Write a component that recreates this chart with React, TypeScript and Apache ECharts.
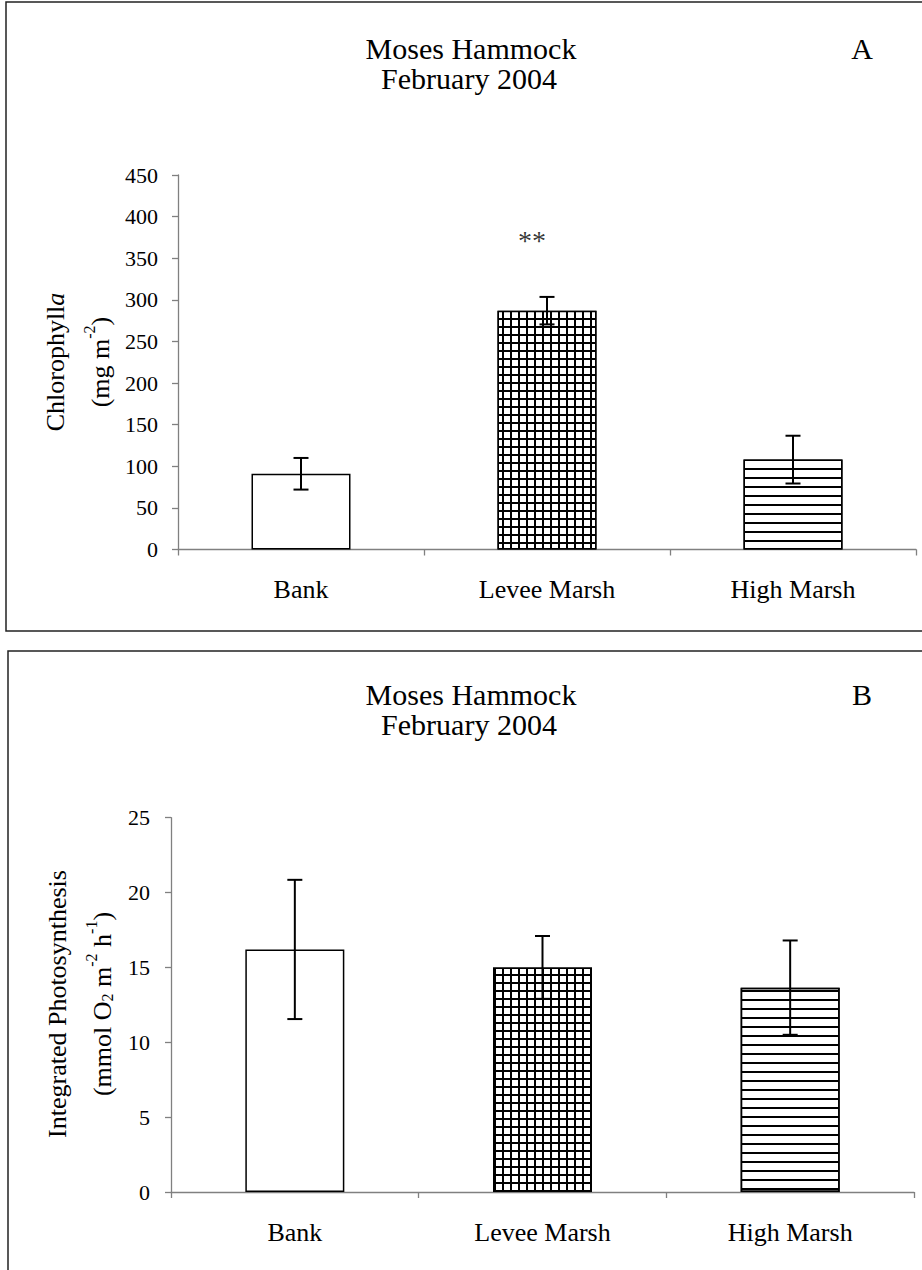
import React, { useEffect, useRef } from "react";
import * as echarts from "echarts";

// ---- data ----
const categories = ["Bank", "Levee Marsh", "High Marsh"];
const chlValues = [91, 287, 108];
const chlErrors = [19, 16.5, 28.7];
const chlSignificance = ["", "**", ""];
const chlSignificanceLevel = 371;
const chlAxis = { min: 0, max: 450, interval: 50 };

const photoValues = [16.2, 15.0, 13.65];
const photoErrors = [4.65, 2.1, 3.15];
const photoAxis = { min: 0, max: 25, interval: 5 };

const panelTitleLine1 = "Moses Hammock";
const panelTitleLine2 = "February 2004";

const FONT = '"Liberation Serif", "Times New Roman", serif';

const gridDecal = {
  symbol: "rect",
  symbolSize: 1,
  symbolKeepAspect: false,
  color: "#ffffff",
  dashArrayX: [6, 1.6],
  dashArrayY: [6, 1.6],
  rotation: 0,
};
const stripeDecal = {
  symbol: "rect",
  symbolSize: 1,
  color: "#000000",
  dashArrayX: [1, 0],
  dashArrayY: [1.6, 6.1],
  rotation: 0,
};
const barStyles = [
  { color: "#ffffff", borderColor: "#000", borderWidth: 1.5 },
  { color: "#000000", borderColor: "#000", borderWidth: 1.5, decal: gridDecal },
  { color: "#ffffff", borderColor: "#000", borderWidth: 1.5, decal: stripeDecal },
];

function barSeries(values: number[], idx: number) {
  return {
    type: "bar",
    xAxisIndex: idx,
    yAxisIndex: idx,
    barWidth: 99,
    data: values.map((v, i) => ({ value: v, itemStyle: barStyles[i] })),
    z: 2,
  };
}

function errorSeries(values: number[], errors: number[], idx: number) {
  return {
    type: "custom",
    xAxisIndex: idx,
    yAxisIndex: idx,
    data: values.map((v, i) => [i, v - errors[i], v + errors[i]]),
    renderItem: (_p: any, api: any) => {
      const x = api.value(0);
      const lo = api.coord([x, api.value(1)]);
      const hi = api.coord([x, api.value(2)]);
      const hw = 7.5;
      const style = { stroke: "#000", lineWidth: 2 };
      return {
        type: "group",
        children: [
          { type: "line", shape: { x1: lo[0], y1: lo[1], x2: hi[0], y2: hi[1] }, style },
          { type: "line", shape: { x1: lo[0] - hw, y1: lo[1], x2: lo[0] + hw, y2: lo[1] }, style },
          { type: "line", shape: { x1: hi[0] - hw, y1: hi[1], x2: hi[0] + hw, y2: hi[1] }, style },
        ],
      };
    },
    z: 10,
  };
}

function xAxis(idx: number) {
  return {
    type: "category",
    gridIndex: idx,
    data: categories,
    axisLine: { lineStyle: { color: "#808080", width: 1.3 } },
    axisTick: { show: true, inside: false, length: 6, lineStyle: { color: "#808080", width: 1.3 } },
    axisLabel: { color: "#000", fontFamily: FONT, fontSize: 26, margin: 27 },
    splitLine: { show: false },
  };
}

function yAxis(idx: number, ax: { min: number; max: number; interval: number }, margin: number) {
  return {
    type: "value",
    gridIndex: idx,
    min: ax.min,
    max: ax.max,
    interval: ax.interval,
    axisLine: { show: true, lineStyle: { color: "#808080", width: 1.3 } },
    axisTick: { show: true, inside: false, length: 6, lineStyle: { color: "#808080", width: 1.3 } },
    axisLabel: { color: "#000", fontFamily: FONT, fontSize: 22, margin },
    splitLine: { show: false },
  };
}

const textBase = { fontFamily: FONT, fill: "#000" };

function titleGraphics(offsetY: number, letter: string) {
  return [
    {
      type: "text",
      x: 471,
      y: 48 + offsetY,
      style: { ...textBase, text: panelTitleLine1, fontSize: 30, align: "center", verticalAlign: "middle" },
    },
    {
      type: "text",
      x: 469,
      y: 78 + offsetY,
      style: { ...textBase, text: panelTitleLine2, fontSize: 30, align: "center", verticalAlign: "middle" },
    },
    {
      type: "text",
      x: 862,
      y: 48 + offsetY,
      style: { ...textBase, text: letter, fontSize: 30, align: "center", verticalAlign: "middle" },
    },
  ];
}

function rotText(x: number, y: number, text: string, rich?: any) {
  return {
    type: "text",
    x,
    y,
    rotation: Math.PI / 2,
    style: {
      ...textBase,
      text,
      fontSize: 26,
      align: "center",
      verticalAlign: "middle",
      rich,
    },
  };
}

const richDefs = {
  n: { fontFamily: FONT, fontSize: 26, lineHeight: 32, verticalAlign: "bottom", color: "#000" },
  i: { fontFamily: FONT, fontSize: 26, fontStyle: "italic", lineHeight: 32, verticalAlign: "bottom", color: "#000" },
  sup: { fontFamily: FONT, fontSize: 16, lineHeight: 16, verticalAlign: "top", color: "#000" },
  sub: { fontFamily: FONT, fontSize: 16, lineHeight: 16, verticalAlign: "bottom", color: "#000" },
};

export default function App() {
  const ref = useRef<HTMLDivElement>(null);
  useEffect(() => {
    if (!ref.current) return;
    const chart = echarts.init(ref.current, null, { renderer: "svg" });
    const option: any = {
      animation: false,
      backgroundColor: "#ffffff",
      grid: [
        { left: 178, right: 6, top: 175, height: 374.5 },
        { left: 171, right: 8, top: 817.7, height: 374.3 },
      ],
      xAxis: [xAxis(0), xAxis(1)],
      yAxis: [yAxis(0, chlAxis, 20), yAxis(1, photoAxis, 21)],
      series: [
        barSeries(chlValues, 0),
        errorSeries(chlValues, chlErrors, 0),
        {
          type: "scatter",
          xAxisIndex: 0,
          yAxisIndex: 0,
          symbolSize: 0,
          data: chlSignificance
            .map((s, i) => (s ? { value: [i, chlSignificanceLevel], name: s } : null))
            .filter((d) => d),
          label: {
            show: true,
            position: "inside",
            offset: [-15, 0],
            formatter: (p: any) => p.name,
            fontFamily: FONT,
            fontSize: 28,
            color: "#000",
          },
          z: 12,
        },
        barSeries(photoValues, 1),
        errorSeries(photoValues, photoErrors, 1),
      ],
      graphic: [
        {
          type: "rect",
          shape: { x: 6, y: 2, width: 940, height: 629 },
          style: { fill: "none", stroke: "#222", lineWidth: 1.5 },
          z: 0,
        },
        {
          type: "rect",
          shape: { x: 8, y: 651, width: 940, height: 700 },
          style: { fill: "none", stroke: "#222", lineWidth: 1.5 },
          z: 0,
        },
        ...titleGraphics(0, "A"),
        ...titleGraphics(646, "B"),
        rotText(52, 362, "{n|Chlorophyll}{i|a}", richDefs),
        rotText(97, 362, "{n|(mg m}{sup|-2}{n|)}", richDefs),
        rotText(54, 1004, "{n|Integrated Photosynthesis}", richDefs),
        rotText(99, 1004, "{n|(mmol O}{sub|2}{n| m}{sup|-2}{n| h}{sup|-1}{n|)}", richDefs),
      ],
    };
    chart.setOption(option);
    return () => chart.dispose();
  }, []);
  return (
    <div
      ref={ref}
      style={{ position: "absolute", left: 0, top: 0, width: 922, height: 1270, background: "#fff" }}
    />
  );
}
